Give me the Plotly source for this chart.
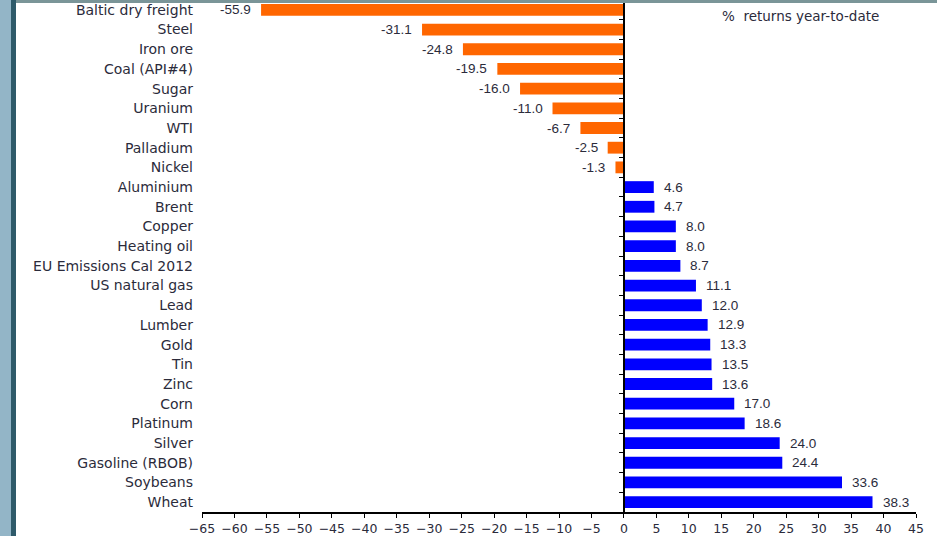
import plotly.graph_objects as go

commodities = ["Baltic dry freight", "Steel", "Iron ore", "Coal (API#4)", "Sugar", "Uranium",
               "WTI", "Palladium", "Nickel", "Aluminium", "Brent", "Copper", "Heating oil",
               "EU Emissions Cal 2012", "US natural gas", "Lead", "Lumber", "Gold", "Tin",
               "Zinc", "Corn", "Platinum", "Silver", "Gasoline (RBOB)", "Soybeans", "Wheat"]
returns = [-55.9, -31.1, -24.8, -19.5, -16.0, -11.0, -6.7, -2.5, -1.3, 4.6, 4.7, 8.0, 8.0,
           8.7, 11.1, 12.0, 12.9, 13.3, 13.5, 13.6, 17.0, 18.6, 24.0, 24.4, 33.6, 38.3]
x_ticks = list(range(-65, 50, 5))

NEG = "#FF6600"
POS = "#0000FF"
TXT = "#2b2b3b"
FONT = "Liberation Sans, Arial, sans-serif"
WIDE = "DejaVu Sans, Verdana, sans-serif"

W, H = 937, 536
L, R, T, B = 202, 21, 0, 24
PW, PH = W - L - R, H - T - B

def px(x):
    return (x - L) / PW

def py(y):
    return (H - B - y) / PH

n = len(commodities)
colors = [NEG if v < 0 else POS for v in returns]

fig = go.Figure()
fig.add_trace(go.Bar(
    x=returns, y=commodities, orientation="h",
    marker=dict(color=colors, line=dict(width=0)),
    hoverinfo="x+y", showlegend=False,
))
fig.add_trace(go.Scatter(
    x=[0] * n, y=commodities, yaxis="y2", mode="markers",
    marker=dict(opacity=0), hoverinfo="skip", showlegend=False,
))

annotations = []
for c, v in zip(commodities, returns):
    annotations.append(dict(
        x=v, y=c, xref="x", yref="y", text=f"{v:.1f}", showarrow=False,
        xanchor="left" if v >= 0 else "right", xshift=8 if v >= 0 else -8,
        font=dict(family=FONT, size=13.5, color=TXT),
    ))
annotations.append(dict(
    x=px(800), y=py(16), xref="paper", yref="paper", text="%  returns year-to-date",
    showarrow=False, xanchor="center", yanchor="middle",
    font=dict(family=WIDE, size=13.5, color=TXT),
))

shapes = [
    dict(type="rect", xref="paper", yref="paper", x0=px(0), x1=px(11), y0=py(H), y1=py(0),
         fillcolor="#93b5c7", line=dict(width=0), layer="above"),
    dict(type="rect", xref="paper", yref="paper", x0=px(11), x1=px(16), y0=py(H), y1=py(0),
         fillcolor="#2e5a6a", line=dict(width=0), layer="above"),
    dict(type="rect", xref="paper", yref="paper", x0=px(16), x1=px(W), y0=py(3), y1=py(0),
         fillcolor="#7a9598", line=dict(width=0), layer="above"),
]

zero_pos = (0 - x_ticks[0]) / (x_ticks[-1] - x_ticks[0])

fig.update_layout(
    width=W, height=H,
    margin=dict(l=L, r=R, t=T, b=B, autoexpand=False),
    paper_bgcolor="white", plot_bgcolor="white",
    bargap=0.4,
    xaxis=dict(
        range=[x_ticks[0], x_ticks[-1]], tickvals=x_ticks, showgrid=False, zeroline=False,
        showline=True, linecolor="black", linewidth=1.5, ticks="outside", ticklen=4,
        tickcolor="black", tickfont=dict(family=WIDE, size=12.5, color=TXT), automargin=False,
    ),
    yaxis=dict(
        type="category", categoryarray=commodities, range=[n - 0.5, -0.5],
        showgrid=False, zeroline=False, showline=False, ticks="",
        tickfont=dict(family=WIDE, size=14, color=TXT), ticklabelstandoff=8, automargin=False,
    ),
    yaxis2=dict(
        type="category", categoryarray=commodities, range=[n - 0.5, -0.5],
        overlaying="y", anchor="free", position=zero_pos, side="left",
        showgrid=False, zeroline=False, showline=True, linecolor="black", linewidth=1.5,
        ticks="outside", tickson="boundaries", ticklen=4, tickcolor="black",
        showticklabels=False, automargin=False,
    ),
    annotations=annotations,
    shapes=shapes,
)

fig.write_html("out.html")
